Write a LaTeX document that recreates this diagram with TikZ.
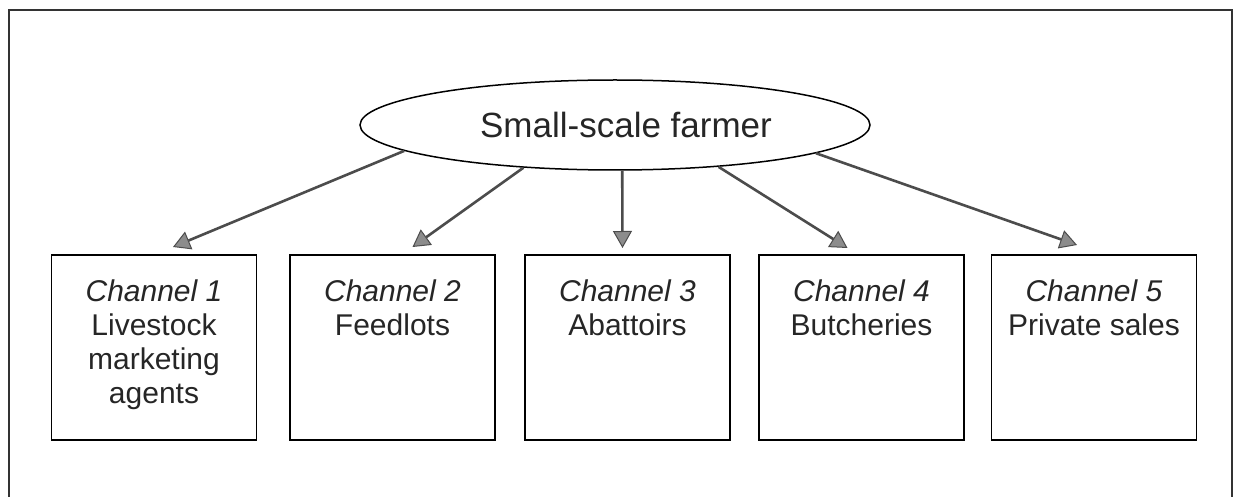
\documentclass[tikz,border=0pt]{standalone}
\usepackage{fontspec}
\setmainfont{Liberation Sans}
\usetikzlibrary{arrows.meta,calc,shapes.geometric}
\newcommand\chantext[2]{\parbox[c][185pt][t]{205pt}{\centering\vspace*{25pt}\textit{#1}\\#2\par}}
\begin{document}
\begin{tikzpicture}[x=1pt,y=-1pt,
  outerframe/.style={draw=black!80, line width=1.4pt},
  farmerellipse/.style={ellipse, draw, line width=1.5pt, minimum width=510pt, minimum height=90pt, inner sep=0pt, font=\fontsize{35}{40}\selectfont, text=black!85},
  chanbox/.style={draw, line width=1.5pt, inner sep=0pt, anchor=north, font=\fontsize{30}{34}\selectfont, text=black!85},
  flow/.style={draw=black!70, line width=2.6pt, -{Triangle[length=17pt,width=19pt,fill=black!45,line width=1pt]}}
]
\useasboundingbox (0,0) rectangle (1234,497);
\fill[white] (0,0) rectangle (1234,497);
\draw[outerframe] (9,497) -- (9,10) -- (1232,10) -- (1232,497);

\node[farmerellipse] (farmer) at (615,125) {\hspace*{22pt}Small-scale farmer};

\node[chanbox] (c1) at (154,254) {\chantext{Channel 1}{Livestock\\marketing\\agents}};
\node[chanbox] (c2) at (392.5,254) {\chantext{Channel 2}{Feedlots}};
\node[chanbox] (c3) at (627.5,254) {\chantext{Channel 3}{Abattoirs}};
\node[chanbox] (c4) at (861.5,254) {\chantext{Channel 4}{Butcheries}};
\node[chanbox] (c5) at (1094,254) {\chantext{Channel 5}{Private sales}};

\draw[flow] (farmer.187) -- ($(c1.north)+(19,-7)$);
\draw[flow] (farmer.205) -- ($(c2.north)+(20,-7)$);
\draw[flow] (farmer.279) -- ($(c3.north)+(-5,-6)$);
\draw[flow] (farmer.338) -- ($(c4.north)+(-14,-6)$);
\draw[flow] (farmer.352.6) -- ($(c5.north)+(-17,-9)$);
\end{tikzpicture}
\end{document}
